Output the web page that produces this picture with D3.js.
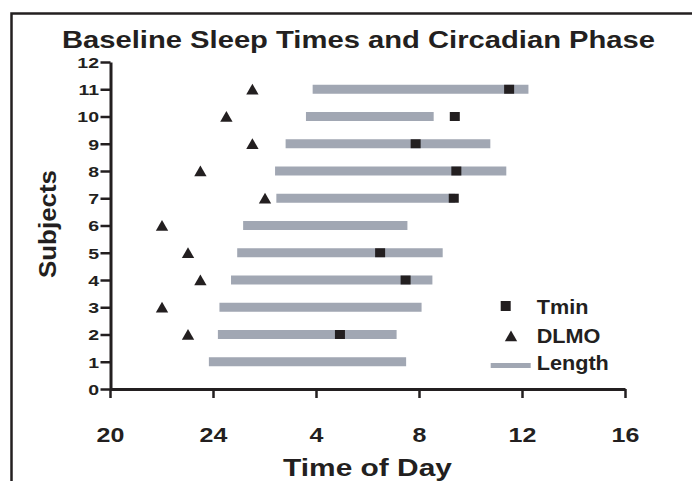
<!DOCTYPE html>
<html>
<head>
<meta charset="utf-8">
<script src="https://cdn.jsdelivr.net/npm/d3@7"></script>
<style>
  html, body { margin: 0; padding: 0; background: #fff; }
  svg { display: block; }
  text { font-family: "Liberation Sans", Arial, Helvetica, sans-serif; font-weight: bold; fill: #231f20; }
</style>
</head>
<body>
<script>
// ---- data (hours; values past 24 are the next morning) ----
const subjects   = [1, 2, 3, 4, 5, 6, 7, 8, 9, 10, 11];
const sleepStart = [23.84, 24.19, 24.25, 24.70, 24.94, 25.17, 26.46, 26.41, 26.82, 27.61, 27.87];
const sleepEnd   = [31.50, 31.13, 32.10, 32.52, 32.92, 31.55, 33.40, 35.39, 34.77, 32.57, 36.25];
const tmin       = [null, 28.93, null, 31.48, 30.49, null, 33.35, 33.45, 31.87, 33.39, 35.50];
const dlmo       = [null, 23.03, 22.02, 23.51, 23.03, 22.02, 26.02, 23.51, 25.53, 24.52, 25.53];
const xTickValues = [20, 24, 28, 32, 36, 40];
const xTickLabels = ["20", "24", "4", "8", "12", "16"];
const yTickValues = [0, 1, 2, 3, 4, 5, 6, 7, 8, 9, 10, 11, 12];
const legendNames = ["Tmin", "DLMO", "Length"];
const titleText = "Baseline Sleep Times and Circadian Phase";
const xTitle = "Time of Day";
const yTitle = "Subjects";

const W = 692, H = 481;
const ink = "#231f20", barColor = "#a1a7b3";

const svg = d3.select("body").append("svg").attr("width", W).attr("height", H);

// frame (top & left only)
svg.append("path").attr("d", "M11.5,481V13.5H692")
  .attr("fill", "none").attr("stroke", ink).attr("stroke-width", 2.5);

const x = d3.scaleLinear().domain([20, 40]).range([110, 625]);
const y = d3.scaleLinear().domain([0, 12]).range([389, 62]);

// title
svg.append("text").attr("transform", "translate(358.5,48) scale(1.27,1)")
  .attr("text-anchor", "middle").attr("font-size", 23).text(titleText);

// bars
svg.append("g").selectAll("rect").data(subjects).join("rect")
  .attr("x", (d, i) => x(sleepStart[i]))
  .attr("width", (d, i) => x(sleepEnd[i]) - x(sleepStart[i]))
  .attr("y", d => y(d) - 4.5).attr("height", 9)
  .attr("fill", barColor);

// Tmin squares
const tminData = subjects.map((s, i) => ({ s, v: tmin[i] })).filter(d => d.v != null);
svg.append("g").selectAll("rect").data(tminData).join("rect")
  .attr("x", d => x(d.v) - 5).attr("y", d => y(d.s) - 4.5)
  .attr("width", 10).attr("height", 9).attr("fill", ink);

// DLMO triangles
const tri = d3.symbol(d3.symbolTriangle, 66);
const dlmoData = subjects.map((s, i) => ({ s, v: dlmo[i] })).filter(d => d.v != null);
svg.append("g").selectAll("path").data(dlmoData).join("path")
  .attr("d", tri)
  .attr("transform", d => `translate(${x(d.v)},${y(d.s) + 1.7})`)
  .attr("fill", ink);

// axes
const yAxis = svg.append("g").attr("transform", "translate(110.5,0)")
  .call(d3.axisLeft(y).tickValues(yTickValues).tickSize(10).tickSizeOuter(0));
yAxis.select(".domain").attr("stroke", ink).attr("stroke-width", 3);
yAxis.selectAll(".tick line").attr("stroke", ink).attr("stroke-width", 2.5);
yAxis.selectAll(".tick text")
  .attr("x", null).attr("dy", null).attr("y", 5.4)
  .attr("transform", "translate(-11.5,0) scale(1.3,1)")
  .attr("font-size", 15).attr("font-family", null).attr("fill", ink);

const xAxis = svg.append("g").attr("transform", "translate(0,389)")
  .call(d3.axisBottom(x).tickValues(xTickValues).tickSize(9).tickSizeOuter(0)
    .tickFormat((d, i) => xTickLabels[i]));
xAxis.select(".domain").attr("stroke", ink).attr("stroke-width", 3);
xAxis.selectAll(".tick line").attr("stroke", ink).attr("stroke-width", 2.5);
xAxis.selectAll(".tick text")
  .attr("y", null).attr("dy", null)
  .attr("transform", "translate(0,53) scale(1.19,1)")
  .attr("font-size", 21).attr("font-family", null).attr("fill", ink);

// axis titles
svg.append("text").attr("transform", "translate(367.5,476) scale(1.22,1)")
  .attr("text-anchor", "middle").attr("font-size", 24.5).text(xTitle);
svg.append("text").attr("transform", "translate(56,224) rotate(-90) scale(1.08,1)")
  .attr("text-anchor", "middle").attr("font-size", 24).text(yTitle);

// legend
const lg = svg.append("g");
const legRows = [
  { name: legendNames[0], baseline: 314, cy: 306 },
  { name: legendNames[1], baseline: 342.7, cy: 336 },
  { name: legendNames[2], baseline: 370, cy: 365.5 }
];
lg.append("rect").attr("x", 500.7).attr("y", legRows[0].cy - 5).attr("width", 10).attr("height", 10).attr("fill", ink);
lg.append("path").attr("d", tri).attr("transform", `translate(511,${legRows[1].cy + 1.7})`).attr("fill", ink);
lg.append("rect").attr("x", 490.7).attr("y", legRows[2].cy - 2.5).attr("width", 40).attr("height", 5).attr("fill", barColor);
lg.selectAll("text").data(legRows).join("text")
  .attr("transform", d => `translate(536.7,${d.baseline}) scale(1.11,1)`)
  .attr("font-size", 19.5).text(d => d.name);
</script>
</body>
</html>
